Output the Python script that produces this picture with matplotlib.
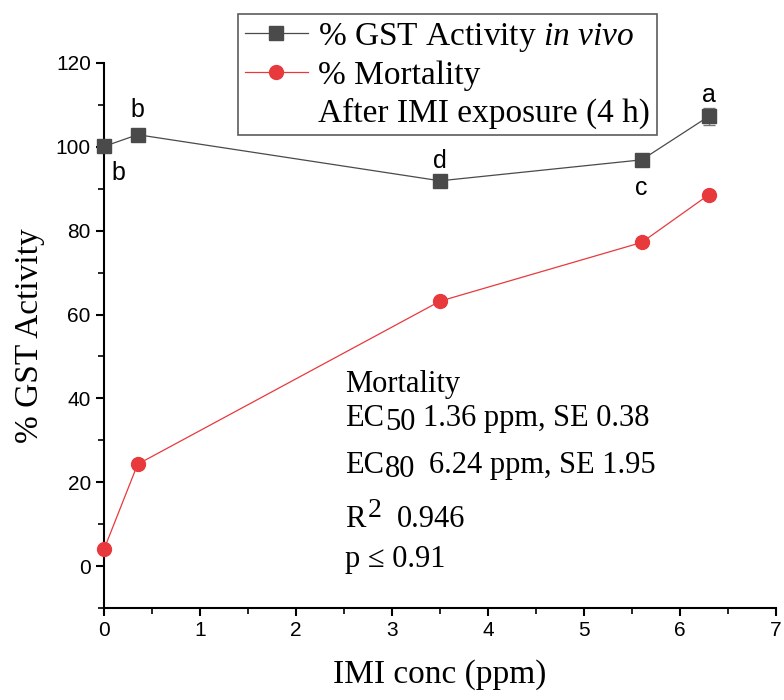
import matplotlib
matplotlib.use("Agg")
import matplotlib.pyplot as plt
from matplotlib.lines import Line2D

plt.rcParams['mathtext.fontset'] = 'custom'
plt.rcParams['mathtext.rm'] = 'Liberation Serif'
plt.rcParams['mathtext.it'] = 'Liberation Serif:italic'

# Data
conc = [0, 0.35, 3.5, 5.6, 6.3]
gst = [100.1, 102.9, 91.9, 96.9, 107.3]
gst_err = [0, 0, 0, 0, 2.0]
mortality = [4.0, 24.3, 63.2, 77.2, 88.6]
letters = ['b', 'b', 'd', 'c', 'a']
# label offsets in points (dx, dy)
letter_off = [(10, -19), (0, 18), (0, 14.5), (0, -20), (0, 15)]

SERIF = 'Liberation Serif'
SANS = 'Liberation Sans'

fig = plt.figure(figsize=(7.84, 7.0), dpi=100)
ax = fig.add_axes([0.1327, 0.1314, 0.8573, 0.7786])

gst_color = '#4a4a4a'
mort_color = '#e8393d'

eb = ax.errorbar(conc, gst, yerr=gst_err, color=gst_color, lw=0.9, marker='s', ms=9.5,
                 mfc=gst_color, mec=gst_color, ecolor='#777777', elinewidth=1, capsize=4,
                 zorder=3)
eb.lines[0].set_clip_on(False)
ax.plot(conc, mortality, color=mort_color, lw=0.9, marker='o', ms=10,
        mfc=mort_color, mec=mort_color, zorder=3, clip_on=False)

for x, y, t, (dx, dy) in zip(conc, gst, letters, letter_off):
    ax.annotate(t, (x, y), xytext=(dx, dy), textcoords='offset points',
                ha='center', va='center', fontsize=18, family=SANS, color='black')

ax.set_xlim(0, 7)
ax.set_ylim(-10, 120)
ax.set_xticks(range(0, 8))
ax.set_yticks(range(0, 121, 20))
ax.set_xticks([i + 0.5 for i in range(0, 7)], minor=True)
ax.set_yticks(range(-10, 120, 20), minor=True)
ax.tick_params(which='major', direction='out', length=6, width=1.5, labelsize=15)
ax.tick_params(which='minor', direction='out', length=4, width=1.2)
for lab in ax.get_xticklabels() + ax.get_yticklabels():
    lab.set_family(SANS)

for s in ['top', 'right']:
    ax.spines[s].set_visible(False)
for s in ['left', 'bottom']:
    ax.spines[s].set_linewidth(1.5)

ax.set_ylabel('% GST Activity', family=SERIF, fontsize=24, labelpad=8)
ax.set_xlabel('IMI conc (ppm)', family=SERIF, fontsize=24, labelpad=14)

# Annotation text (composed piecewise so sub/superscripts are near full size)
tx = 2.51
fs = 22
renderer = fig.canvas.get_renderer()


def compose(x, y, parts):
    """parts: list of (text, fontsize, dy_px, gap_before_px)"""
    cum = 0.0
    for text, size, dy, gap in parts:
        cum += gap
        t = ax.annotate(text, (x, y), xytext=(cum, dy), textcoords='offset pixels',
                        family=SERIF, fontsize=size, ha='left', va='baseline')
        cum += t.get_window_extent(renderer).width


ax.text(tx, 41.5, 'Mortality', family=SERIF, fontsize=fs, va='baseline')
compose(tx, 33.3, [('EC', fs, 0, 0), ('50', fs, -4, 1), ('1.36 ppm, SE 0.38', fs, 0, 8)])
compose(tx, 22.2, [('EC', fs, 0, 0), ('80', fs, -4, 1), ('6.24 ppm, SE 1.95', fs, 0, 14)])
compose(tx, 9.4, [('R', fs, 0, 0), ('2', 20, 10, 2), ('0.946', fs, 0, 16)])
ax.text(tx, -0.2, 'p ≤ 0.91', family=SERIF, fontsize=fs, va='baseline')

handles = [
    Line2D([], [], color=gst_color, lw=0.9, marker='s', ms=9.5),
    Line2D([], [], color=mort_color, lw=0.9, marker='o', ms=10),
    Line2D([], [], color='none'),
]
labels = [r'% GST Activity $\it{in\ vivo}$', '% Mortality', 'After IMI exposure (4 h)']
leg = fig.legend(handles, labels, loc='upper left', bbox_to_anchor=(0.3036, 0.98),
                 bbox_transform=fig.transFigure, borderaxespad=0, frameon=True,
                 fancybox=False, edgecolor='#333333', handlelength=1.9,
                 handletextpad=0.3, labelspacing=0.2, borderpad=0.2,
                 prop={'family': SERIF, 'size': 24})
leg.get_frame().set_linewidth(1.2)

fig.savefig('out.png', dpi=100)
